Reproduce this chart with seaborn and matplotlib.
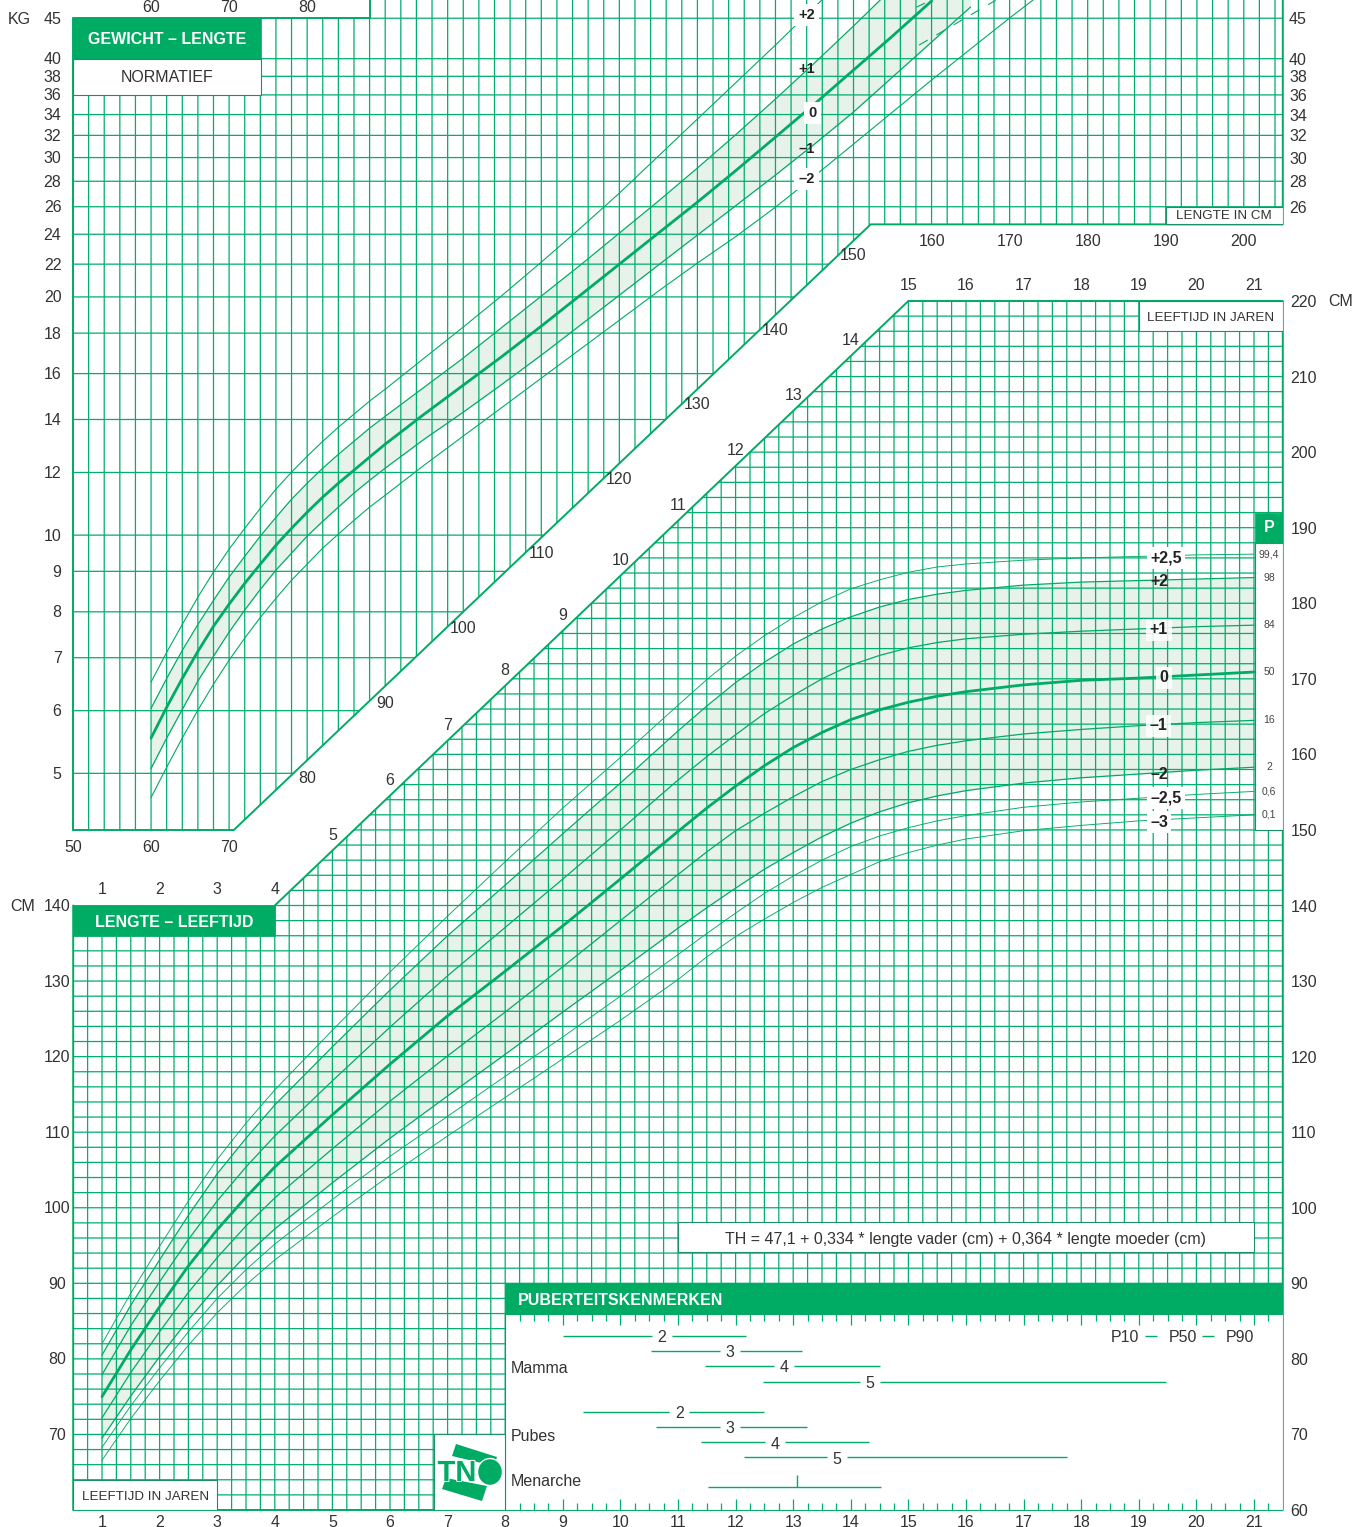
import matplotlib
matplotlib.use("Agg")
import matplotlib.pyplot as plt
import matplotlib.patheffects as pe
from matplotlib.patches import Polygon, Rectangle, Ellipse
from matplotlib.ticker import NullLocator
import seaborn as sns

sns.set_theme(style="white")
plt.rcParams['font.family'] = ['Liberation Sans', 'DejaVu Sans']

# ---------- data: height for age (cm) ----------
ages = [1, 1.5, 2, 2.5, 3, 3.5, 4, 5, 6, 7, 8, 9, 10, 11, 11.5, 12, 12.5, 13, 13.5, 14, 14.5, 15, 15.5, 16, 17, 18, 19, 20, 21]
h_p25 = [82.0, 88.7, 94.9, 100.9, 106.4, 111.2, 115.6, 123.5, 131.2, 138.6, 145.8, 152.9, 159.6, 166.5, 169.9, 173.0, 175.7, 178.1, 180.2, 181.9, 183.1, 184.1, 184.8, 185.2, 185.7, 186.0, 186.2, 186.4, 186.5]
h_p2 = [80.5, 87.1, 93.1, 99.0, 104.5, 109.2, 113.6, 121.3, 128.8, 136.0, 142.7, 149.5, 156.2, 163.1, 166.4, 169.5, 172.2, 174.6, 176.6, 178.2, 179.5, 180.5, 181.2, 181.7, 182.4, 182.8, 183.0, 183.2, 183.4]
h_p1 = [77.9, 84.4, 90.2, 95.8, 100.9, 105.4, 109.5, 116.8, 123.9, 130.7, 137.1, 143.5, 150.0, 156.6, 159.7, 162.6, 165.4, 167.8, 170.0, 171.8, 173.1, 174.1, 174.8, 175.3, 175.9, 176.3, 176.6, 176.9, 177.1]
h_0 = [75.0, 81.2, 86.9, 92.3, 97.1, 101.4, 105.4, 112.3, 119.0, 125.4, 131.3, 137.3, 143.5, 149.8, 152.9, 155.8, 158.5, 160.9, 162.9, 164.6, 165.9, 166.9, 167.7, 168.3, 169.2, 169.8, 170.1, 170.5, 170.9]
h_m1 = [72.2, 78.2, 83.6, 88.8, 93.4, 97.6, 101.3, 107.8, 114.1, 120.1, 125.9, 131.9, 138.0, 144.1, 147.1, 149.9, 152.2, 154.4, 156.4, 158.0, 159.3, 160.4, 161.2, 161.8, 162.7, 163.3, 163.8, 164.2, 164.5]
h_m2 = [69.5, 75.1, 80.3, 85.2, 89.7, 93.7, 97.2, 103.3, 109.2, 114.8, 120.3, 125.9, 131.4, 137.0, 139.7, 142.3, 144.8, 147.0, 149.1, 150.9, 152.4, 153.6, 154.5, 155.2, 156.2, 156.9, 157.4, 157.9, 158.3]
h_m25 = [68.3, 73.8, 78.8, 83.6, 88.0, 91.8, 95.2, 101.1, 106.8, 112.1, 117.4, 122.6, 128.0, 133.5, 136.3, 139.0, 141.6, 143.9, 146.0, 147.8, 149.2, 150.3, 151.2, 151.9, 153.0, 153.7, 154.2, 154.7, 155.1]
h_m3 = [66.6, 72.1, 77.1, 81.8, 86.1, 89.8, 93.1, 98.8, 104.3, 109.5, 114.6, 119.7, 124.8, 130.2, 133.2, 135.9, 138.2, 140.4, 142.4, 144.1, 145.8, 147.0, 148.0, 148.8, 149.9, 150.6, 151.2, 151.6, 152.0]

# ---------- data: weight for length (kg) ----------
lengths = [60, 62, 64, 66, 68, 70, 72, 74, 76, 78, 80, 82, 84, 86, 88, 90, 95, 100, 105, 110, 115, 120, 125, 130, 135, 140, 145, 150, 155, 160, 165, 170, 175]
w_p2 = [6.52, 7.11, 7.71, 8.35, 8.98, 9.60, 10.20, 10.81, 11.43, 12.01, 12.58, 13.14, 13.69, 14.22, 14.77, 15.29, 16.74, 18.32, 20.10, 22.13, 24.43, 27.05, 30.13, 33.56, 37.37, 41.62, 46.49, 51.78]
w_p1 = [6.04, 6.59, 7.15, 7.71, 8.27, 8.85, 9.40, 9.97, 10.53, 11.10, 11.63, 12.15, 12.65, 13.14, 13.65, 14.13, 15.38, 16.74, 18.32, 20.05, 21.94, 24.08, 26.43, 29.10, 32.12, 35.57, 39.50, 43.99, 49.13, 54.89, 61.49]
w_0 = [5.54, 6.06, 6.59, 7.13, 7.67, 8.18, 8.69, 9.19, 9.71, 10.20, 10.69, 11.17, 11.63, 12.08, 12.55, 13.03, 14.22, 15.47, 16.83, 18.37, 20.10, 22.00, 24.08, 26.35, 28.93, 31.84, 35.06, 38.70, 42.73, 47.31]
w_m1 = [5.07, 5.54, 6.02, 6.54, 7.03, 7.54, 8.04, 8.54, 9.03, 9.49, 9.97, 10.41, 10.85, 11.30, 11.73, 12.15, 13.22, 14.30, 15.52, 16.88, 18.42, 20.10, 21.94, 23.94, 26.12, 28.51, 31.20, 34.25, 37.92, 41.98, 46.49]
w_m2 = [4.66, 5.09, 5.54, 6.01, 6.48, 6.95, 7.41, 7.87, 8.32, 8.77, 9.19, 9.63, 10.03, 10.44, 10.85, 11.23, 12.26, 13.34, 14.51, 15.79, 17.18, 18.69, 20.34, 22.07, 23.87, 25.97, 28.43, 31.20, 34.25, 37.59, 41.15, 45.03, 49.13]
dash_len = [158.4, 168.2]
dash_kg = [41.62, 47.4]
dash2_len = [158.1, 159.1]
dash2_kg = [46.49, 47.0]

kg_ticks = [5, 6, 7, 8, 9, 10, 12, 14, 16, 18, 20, 22, 24, 26, 28, 30, 32, 34, 36, 38, 40, 45]
kg_right = [26, 28, 30, 32, 34, 36, 38, 40, 45]
len_grid = list(range(50, 206, 2))
age_grid = [0.5 + 0.25 * i for i in range(85)]
cm_grid = list(range(60, 221, 2))
cm_ticks = list(range(60, 221, 10))

# ---------- data: puberty ----------
pub_rows = [83.05, 81.06, 79.07, 76.95, 73.0, 71.0, 69.0, 67.0]
pub_p10 = [9.0, 10.53, 11.47, 12.47, 9.35, 10.62, 11.4, 12.15]
pub_p50 = [10.72, 11.9, 12.84, 14.33, 11.02, 11.9, 12.68, 13.76]
pub_p90 = [12.18, 13.15, 14.5, 19.47, 12.49, 13.24, 14.32, 17.75]
pub_lab = ['2', '3', '4', '5', '2', '3', '4', '5']
men_p10, men_p50, men_p90, men_row = 11.52, 13.07, 14.52, 63.05

GREEN = '#00AB64'
LINE = '#00AE6E'
BOX = '#1C9068'
SHADE = '#E6F2EA'
TXT = '#333333'
W, H = 1369, 1527
fig = plt.figure(figsize=(W / 100, H / 100), dpi=100, facecolor='white')
FS = 11.5
GLW = 0.9
OLW = 1.4
TSHIFT = 0.27  # cm: optical centring of text inside boxes


def rect(l, t, r, b):
    return [l / W, 1 - b / H, (r - l) / W, (b - t) / H]


# =============== upper chart ===============
kg_bottom, kg_top = 4.24, 47.45
au = fig.add_axes(rect(73, 0, 1282.8, 830))
au.set_yscale('log')
au.set_xlim(50, 205)
au.set_ylim(kg_bottom, kg_top)
au.patch.set_alpha(0)
au.yaxis.set_minor_locator(NullLocator())
for s in au.spines.values():
    s.set_visible(False)
up_poly = [(50, kg_bottom), (70.6, kg_bottom), (152.2, 24.7), (205, 24.7), (205, kg_top), (88, kg_top), (88, 45), (50, 45)]
up_clip = Polygon(up_poly, closed=True, transform=au.transData, fc='none', ec='none')
au.add_patch(up_clip)
au.fill_between(lengths[:31], w_m1, w_p1, color=SHADE, lw=0, zorder=1)
c1 = au.vlines(len_grid, kg_bottom, kg_top, color=LINE, lw=GLW, zorder=2)
c2 = au.hlines(kg_ticks, 50, 205, color=LINE, lw=GLW, zorder=2)
for c in (c1, c2):
    c.set_clip_path(up_clip)
    c.set_snap(False)
for arr, lw in [(w_p2, 0.8), (w_p1, 0.9), (w_0, 2.0), (w_m1, 0.9), (w_m2, 0.8)]:
    sns.lineplot(x=lengths[:len(arr)], y=arr, ax=au, color=GREEN, linewidth=lw, zorder=3, estimator=None, sort=False)
sns.lineplot(x=dash_len, y=dash_kg, ax=au, color=GREEN, linewidth=0.8, zorder=3, estimator=None, sort=False, linestyle=(0, (9, 9)))
sns.lineplot(x=dash2_len, y=dash2_kg, ax=au, color=GREEN, linewidth=0.8, zorder=3, estimator=None, sort=False)
# outline
au.plot([50, 70.6, 152.2, 205, 205], [kg_bottom, kg_bottom, 24.7, 24.7, kg_top], color=GREEN, lw=OLW, zorder=4, clip_on=False)
au.plot([88, 88, 50, 50], [kg_top, 45, 45, kg_bottom], color=GREEN, lw=OLW, zorder=4, clip_on=False)
# boxes
au.add_patch(Rectangle((50, 40), 24.1, 5, fc=GREEN, ec=GREEN, lw=0.5, zorder=5))
au.add_patch(Rectangle((50, 36), 24.1, 4, fc='white', ec=BOX, lw=0.8, zorder=5))
au.text(62, 42.3, 'GEWICHT – LENGTE', color='white', fontsize=FS, fontweight='bold', ha='center', va='center', zorder=6)
au.text(62, 37.85, 'NORMATIEF', color=TXT, fontsize=FS, ha='center', va='center', zorder=6)
au.add_patch(Rectangle((190, 24.7), 15, 1.3, fc='white', ec=BOX, lw=0.8, zorder=5))
au.text(197.5, 25.32, 'LENGTE IN CM', color=TXT, fontsize=9.6, ha='center', va='center', zorder=6)

au.set_xticks([])
au.yaxis.tick_right()
au.set_yticks(kg_right)
au.set_yticklabels([str(v) for v in kg_right])
au.tick_params(axis='y', which='major', length=0, pad=4.5, labelsize=FS, labelcolor=TXT)


def pt(dx, dy):
    return dx * 0.72, dy * 0.72


def lab(ax, x, y, s, dx=0, dy=0, **kw):
    d = dict(color=TXT, fontsize=FS, ha='center', va='center', zorder=7, annotation_clip=False, textcoords='offset points')
    d.update(kw)
    return ax.annotate(s, (x, y), xytext=pt(dx, dy - 1), **d)


for v in kg_ticks:
    lab(au, 50, v, str(v), dx=-11.5, ha='right')
lab(au, 50, 45, 'KG', dx=-54)
for v in [60, 70, 80]:
    lab(au, v, 45, str(v), dy=12)
for v in [50, 60, 70]:
    lab(au, v, kg_bottom, str(v), dy=-17)
diag_labels = [80, 90, 100, 110, 120, 130, 140, 150]
diag_kg = [4.93, 6.13, 7.62, 9.49, 11.77, 14.64, 18.16, 22.58]
for v, y in zip(diag_labels, diag_kg):
    lab(au, v, y, str(v), dy=1)
for v in [160, 170, 180, 190, 200]:
    lab(au, v, 24.7, str(v), dy=-16)
for txt, L, kg, white in [('+2', 144, 45.55, True), ('+1', 144, 38.93, False), ('0', 144.7, 34.25, True), ('–1', 144, 30.83, False), ('–2', 144, 28.26, True)]:
    t = lab(au, L, kg, txt, fontweight='bold', fontsize=10.5, color='#222222')
    if white:
        t.set_bbox(dict(fc='white', ec='none', pad=3))

# =============== lower chart ===============
al = fig.add_axes(rect(73.2, 301, 1282.8, 1510))
al.set_xlim(0.5, 21.5)
al.set_ylim(60, 220)
al.patch.set_alpha(0)
for s in al.spines.values():
    s.set_visible(False)
lo_poly = [(0.5, 60), (21.5, 60), (21.5, 220), (15, 220), (4, 140), (0.5, 140)]
lo_clip = Polygon(lo_poly, closed=True, transform=al.transData, fc='none', ec='none')
al.add_patch(lo_clip)
al.fill_between(ages, h_m2, h_p2, color=SHADE, lw=0, zorder=1)
c1 = al.vlines(age_grid, 60, 220, color=LINE, lw=GLW, zorder=2)
c2 = al.hlines(cm_grid, 0.5, 21.5, color=LINE, lw=GLW, zorder=2)
for c in (c1, c2):
    c.set_clip_path(lo_clip)
    c.set_snap(False)
for arr, lw in [(h_p25, 0.65), (h_p2, 0.9), (h_p1, 0.9), (h_0, 2.0), (h_m1, 0.9), (h_m2, 0.9), (h_m25, 0.65), (h_m3, 0.65)]:
    sns.lineplot(x=ages, y=arr, ax=al, color=GREEN, linewidth=lw, zorder=3, estimator=None, sort=False)
al.plot([0.5, 0.5, 21.5, 21.5, 15, 4], [140, 60, 60, 220, 220, 140], color=GREEN, lw=OLW, zorder=4, clip_on=False)

# boxes
al.add_patch(Rectangle((0.5, 136), 3.5, 4, fc=GREEN, ec=GREEN, lw=0.5, zorder=5))
al.text(2.25, 138 - TSHIFT, 'LENGTE – LEEFTIJD', color='white', fontsize=FS, fontweight='bold', ha='center', va='center', zorder=6)
al.add_patch(Rectangle((19, 216), 2.5, 4, fc='white', ec=BOX, lw=0.8, zorder=5))
al.text(20.25, 218 - TSHIFT, 'LEEFTIJD IN JAREN', color=TXT, fontsize=9.6, ha='center', va='center', zorder=6)
al.add_patch(Rectangle((0.5, 60), 2.5, 4, fc='white', ec=BOX, lw=0.8, zorder=5))
al.text(1.75, 62 - TSHIFT, 'LEEFTIJD IN JAREN', color=TXT, fontsize=9.6, ha='center', va='center', zorder=6)
al.add_patch(Rectangle((21.02, 150), 0.48, 38, fc='white', ec=BOX, lw=0.8, zorder=5))
al.add_patch(Rectangle((21.02, 188), 0.48, 4, fc=GREEN, ec=GREEN, lw=0.5, zorder=5))
al.text(21.26, 190, 'P', color='white', fontsize=FS, fontweight='bold', ha='center', va='center', zorder=6)
al.add_patch(Rectangle((11, 94.1), 10, 4, fc='white', ec=BOX, lw=0.8, zorder=5))
al.text(16, 96.1 - TSHIFT, 'TH = 47,1 + 0,334 * lengte vader (cm) + 0,364 * lengte moeder (cm)', color=TXT, fontsize=FS, ha='center', va='center', zorder=6)
# puberty panel
al.add_patch(Rectangle((8, 60), 13.5, 26, fc='white', ec=BOX, lw=0.8, zorder=5))
al.add_patch(Rectangle((8, 86), 13.5, 4, fc=GREEN, ec=GREEN, lw=0.5, zorder=5))
al.text(8.22, 88 - TSHIFT, 'PUBERTEITSKENMERKEN', color='white', fontsize=FS, fontweight='bold', ha='left', va='center', zorder=6)
tick_ages = [a for a in age_grid if 8 < a < 21.5]
long_t = [a for a in tick_ages if a == int(a)]
short_t = [a for a in tick_ages if a != int(a)]
for yb, sgn in [(60, 1), (86, -1)]:
    al.vlines(short_t, yb, yb + sgn * 0.95, color=LINE, lw=GLW, zorder=6)
    al.vlines(long_t, yb, yb + sgn * 1.5, color=LINE, lw=GLW, zorder=6)
al.hlines(pub_rows, pub_p10, pub_p90, color=GREEN, lw=1.0, zorder=6)
# the median of each row is shown by a number that interrupts the line
al.hlines(pub_rows, [a - 0.175 for a in pub_p50], [a + 0.175 for a in pub_p50], color='white', lw=2.0, zorder=6.5)
for a, y, s in zip(pub_p50, pub_rows, pub_lab):
    al.text(a, y - TSHIFT, s, color=TXT, fontsize=FS, ha='center', va='center', zorder=7)
al.hlines(men_row, men_p10, men_p90, color=GREEN, lw=1.0, zorder=6)
al.vlines(men_p50, men_row, men_row + 1.55, color=GREEN, lw=1.0, zorder=6)
for name, a, y in [('Mamma', 8.1, 78.75), ('Pubes', 8.1, 69.75), ('Menarche', 8.1, 63.8)]:
    al.text(a, y, name, color=TXT, fontsize=FS, ha='left', va='center', zorder=7)
for s, a in [('P10', 18.76), ('P50', 19.77), ('P90', 20.76)]:
    al.text(a, 83.05 - TSHIFT, s, color=TXT, fontsize=FS, ha='center', va='center', zorder=7)
al.hlines([83.05, 83.05], [19.11, 20.1], [19.32, 20.31], color=GREEN, lw=1.0, zorder=6)
# TNO box
al.add_patch(Rectangle((6.76, 60), 1.24, 10, fc='white', ec=BOX, lw=0.8, zorder=5))

# ticks
yr = list(range(1, 22))
al.set_xticks(yr)
al.set_xticklabels([str(v) for v in yr])
al.tick_params(axis='x', length=0, pad=3.4, labelsize=FS, labelcolor=TXT)
al.yaxis.tick_right()
al.set_yticks(cm_ticks)
al.set_yticklabels([str(v) for v in cm_ticks])
al.tick_params(axis='y', length=0, pad=5.5, labelsize=FS, labelcolor=TXT)
for v in range(70, 141, 10):
    lab(al, 0.5, v, str(v), dx=-16)
lab(al, 0.5, 140, 'CM', dx=-51)
lab(al, 21.5, 220, 'CM', dx=58)
for a in [1, 2, 3, 4]:
    lab(al, a, 140, str(a), dy=17)
for a in range(5, 15):
    lab(al, a, 140 + (a - 4) * 80 / 11, str(a), dy=16)
for a in range(15, 22):
    lab(al, a, 220, str(a), dy=16)
pct = ['99,4', '98', '84', '50', '16', '2', '0,6', '0,1']
ends = [h_p25, h_p2, h_p1, h_0, h_m1, h_m2, h_m25, h_m3]
for p, arr in zip(pct, ends):
    al.text(21.26, arr[-1], p, color='#444444', fontsize=7.5, ha='center', va='center', zorder=7)
sds = [('+2,5', 19.47, 186.0, 1.0), ('+2', 19.35, 182.85, 0), ('+1', 19.35, 176.5, 0.85), ('0', 19.44, 170.15, 0.85),
       ('–1', 19.34, 163.8, 0.85), ('–2', 19.35, 157.35, 0), ('–2,5', 19.47, 154.25, 1.0), ('–3', 19.35, 151.05, 1.0)]
for s, a, y, alpha in sds:
    t = al.text(a, y, s, color='#222222', fontsize=FS, fontweight='bold', ha='center', va='center', zorder=4)
    if alpha:
        t.set_bbox(dict(fc='white', ec='none', pad=2.5, alpha=alpha))

# =============== logo overlay ===============
ov = fig.add_axes([0, 0, 1, 1], zorder=10)
ov.set_xlim(0, W)
ov.set_ylim(H, 0)
ov.axis('off')
ov.patch.set_alpha(0)
ov.add_patch(Polygon([(456, 1444), (497, 1457), (494, 1466), (452, 1456)], fc=GREEN, ec='none'))
ov.add_patch(Polygon([(446, 1478), (487, 1486), (482, 1501), (442, 1489)], fc=GREEN, ec='none'))
ov.add_patch(Ellipse((490, 1472), 25, 27, fc=GREEN, ec='white', lw=1))
ov.text(457, 1473, 'TN', color=GREEN, fontsize=21, fontweight='bold', ha='center', va='center',
        path_effects=[pe.withStroke(linewidth=1.5, foreground='white')])

fig.savefig('out.png', dpi=100)
